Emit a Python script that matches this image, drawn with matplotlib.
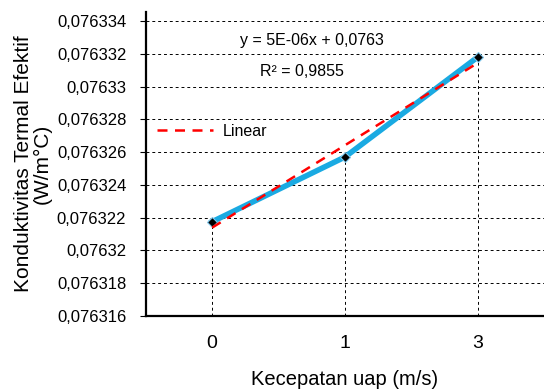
import numpy as np
import matplotlib
matplotlib.use("Agg")
from matplotlib import pyplot as plt
from matplotlib.ticker import FuncFormatter

plt.rcParams['font.family'] = ['Liberation Sans', 'DejaVu Sans']

kecepatan = ['0', '1', '3']
konduktivitas = [0.07632175, 0.0763257, 0.0763318]
y_ticks = [0.076316, 0.076318, 0.07632, 0.076322, 0.076324, 0.076326,
           0.076328, 0.07633, 0.076332, 0.076334]

xpos = np.arange(len(kecepatan))
# trendline like excel, x = 1..n
coef = np.polyfit(xpos + 1, konduktivitas, 1)
trend = np.polyval(coef, xpos + 1)

fig = plt.figure(figsize=(5.44, 3.90), dpi=100)
ax = fig.add_axes([0.268, 0.19, 0.732, 0.779])

ax.set_ylim(0.076316, 0.07633455)
ax.set_xlim(-0.5, 2.5)
ax.set_yticks(y_ticks)
ax.yaxis.set_major_formatter(FuncFormatter(lambda v, p: ('%.6f' % v).rstrip('0').replace('.', ',')))
ax.grid(axis='y', color='black', linestyle=(0, (3, 3)), linewidth=0.7)

for xi, yi in zip(xpos, konduktivitas):
    ax.vlines(xi, 0.076316, yi, colors='black', linestyles=(0, (3, 3)), linewidth=0.7)

ax.plot(xpos, konduktivitas, color='#1AAAE2', linewidth=4, marker='D', markersize=5,
        markerfacecolor='black', markeredgecolor='#7fc8ec', markeredgewidth=0.8, zorder=3)
ax.plot(xpos, trend, color='#FF0000', linestyle=(0, (4, 3)), linewidth=1.8, zorder=4, label='Linear')

ax.legend(loc='center left', bbox_to_anchor=(0.0, 0.608), frameon=False, fontsize=11.5,
          handlelength=3.5, borderaxespad=0.3, handletextpad=0.6)

ax.text(0.417, 0.905, 'y = 5E-06x + 0,0763', transform=ax.transAxes, ha='center', va='center', fontsize=11.5)
ax.text(0.392, 0.806, 'R² = 0,9855', transform=ax.transAxes, ha='center', va='center', fontsize=11.5)

ax.set_xticks(xpos)
ax.set_xticklabels(kecepatan, fontsize=14)
ax.tick_params(axis='x', length=0, pad=14)
ax.tick_params(axis='y', labelsize=12, length=4, width=0.8, pad=10)

ax.spines['top'].set_visible(False)
ax.spines['right'].set_visible(False)
ax.spines['left'].set_linewidth(1.6)
ax.spines['bottom'].set_linewidth(1.6)

ax.set_xlabel('Kecepatan uap (m/s)', fontsize=14.5, labelpad=13)
ax.set_ylabel('Konduktivitas Termal Efektif\n(W/m°C)', fontsize=15, labelpad=4, linespacing=0.95)

fig.savefig('out.png', dpi=100)
